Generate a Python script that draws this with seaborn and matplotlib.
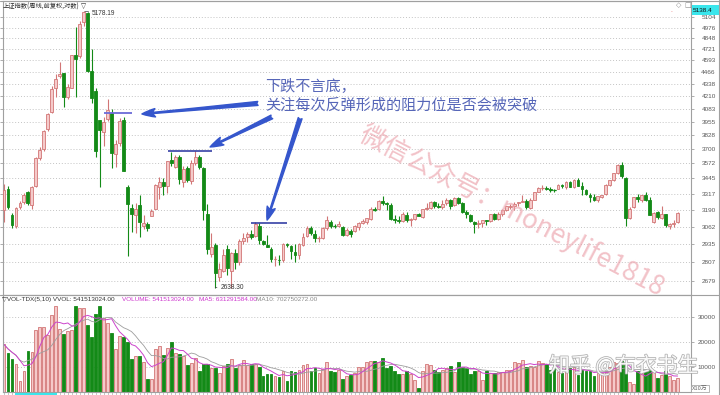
import numpy as np
import pandas as pd
import matplotlib
matplotlib.use("Agg")
import matplotlib.pyplot as plt
import matplotlib.patheffects as pe
from matplotlib.colors import to_rgba
from matplotlib.lines import Line2D
from matplotlib.patches import FancyArrowPatch, Rectangle
from matplotlib.ticker import NullLocator
import seaborn as sns

# ---- weekly bars of the Shanghai Composite (Jan 2015 - May 2018) ----
opens = [
    3190, 3356, 3147, 3070, 3210, 3250, 3328, 3225, 3381, 3624,
    3700, 3885, 4050, 4295, 4418, 4450, 4200, 4300, 4660, 4640,
    5049, 5154, 4480, 4260, 3975, 3858, 3985, 4045, 3656, 3755,
    3973, 3373, 3203, 3149, 3230, 3070, 3080, 3143, 3200, 3375,
    3410, 3380, 3600, 3545, 3630, 3416, 3530, 3420, 3580, 3630,
    3536, 3155, 2865, 2930, 2705, 2750, 2900, 2745, 2870, 2810,
    2955, 2985, 3010, 2990, 3070, 2955, 2930, 2900, 2826, 2825,
    2823, 2935, 2920, 2880, 2855, 2930, 2990, 3050, 3010, 2975,
    2980, 3050, 3100, 3070, 3066, 3060, 3000, 3030, 3030, 3060,
    3090, 3100, 3120, 3195, 3195, 3260, 3240, 3230, 3120, 3110,
    3105, 3150, 3110, 3120, 3160, 3135, 3200, 3205, 3250, 3220,
    3210, 3240, 3265, 3225, 3285, 3240, 3170, 3150, 3100, 3080,
    3090, 3110, 3105, 3155, 3120, 3155, 3190, 3215, 3220, 3240,
    3255, 3260, 3205, 3270, 3335, 3365, 3365, 3355, 3350, 3360,
    3390, 3375, 3415, 3370, 3435, 3385, 3350, 3310, 3290, 3265,
    3295, 3315, 3390, 3430, 3490, 3563, 3450, 3130, 3210, 3290,
    3270, 3310, 3270, 3100, 3170, 3130, 3155, 3070, 3080, 3095,
]
highs = [
    3395, 3383, 3165, 3210, 3260, 3324, 3340, 3383, 3632, 3716,
    3875, 4040, 4317, 4445, 4572, 4460, 4333, 4658, 4986, 5052,
    5178.19, 5176, 4720, 4290, 3976, 4000, 4184, 4080, 3784, 3994,
    4006, 3388, 3236, 3243, 3308, 3150, 3100, 3200, 3394, 3457,
    3448, 3596, 3678, 3650, 3650, 3551, 3548, 3600, 3684.57, 3650,
    3539, 3235, 3016, 2940, 2800, 2897, 2930, 2880, 2900, 2970,
    3016, 3020, 3036, 3097, 3087, 2965, 3000, 2910, 2850, 2855,
    2940, 2940, 2930, 2935, 2940, 3015, 3070, 3070, 3035, 2990,
    3060, 3140, 3110, 3085, 3107, 3065, 3050, 3045, 3075, 3095,
    3120, 3130, 3210, 3215, 3265, 3301, 3250, 3240, 3150, 3140,
    3170, 3175, 3130, 3160, 3165, 3200, 3240, 3260, 3260, 3240,
    3270, 3280, 3275, 3295, 3290, 3250, 3185, 3160, 3105, 3110,
    3115, 3115, 3160, 3165, 3170, 3195, 3220, 3235, 3250, 3255,
    3305, 3275, 3280, 3335, 3370, 3390, 3385, 3375, 3360, 3395,
    3400, 3420, 3420, 3440, 3450, 3410, 3360, 3320, 3315, 3300,
    3310, 3395, 3435, 3490, 3565, 3587, 3460, 3210, 3290, 3315,
    3310, 3335, 3290, 3175, 3180, 3220, 3160, 3090, 3110, 3176,
]
lows = [
    3095, 3200, 3050, 3050, 3200, 3237, 3230, 3200, 3370, 3600,
    3680, 3870, 4040, 4197, 4400, 4099, 4180, 4290, 4200, 4620,
    4997, 4467, 4139, 3629, 3373, 3727, 3960, 3537, 3538, 3724,
    3505, 2850, 3025, 3011, 2983, 3045, 3030, 3140, 3195, 3275,
    3308, 3323, 3550, 3530, 3400, 3371, 3412, 3400, 3560, 3520,
    3115, 2867, 2844, 2638.30, 2682, 2740, 2719, 2638.96, 2760, 2790,
    2935, 2950, 2970, 2985, 2938, 2925, 2910, 2807, 2781, 2790,
    2806, 2914, 2828, 2807, 2830, 2920, 2985, 3000, 2950, 2950,
    2970, 3040, 3050, 3050, 3060, 2990, 2996, 2985, 3025, 3040,
    3080, 3080, 3110, 3180, 3190, 3225, 3190, 3110, 3090, 3090,
    3095, 3100, 3065, 3115, 3140, 3130, 3185, 3200, 3205, 3205,
    3200, 3225, 3200, 3220, 3235, 3165, 3130, 3100, 3016, 3050,
    3060, 3075, 3100, 3110, 3115, 3145, 3180, 3195, 3190, 3220,
    3250, 3200, 3195, 3265, 3330, 3350, 3345, 3335, 3330, 3355,
    3365, 3360, 3370, 3365, 3380, 3310, 3305, 3255, 3260, 3255,
    3280, 3310, 3385, 3420, 3480, 3450, 3062.74, 3120, 3205, 3255,
    3255, 3260, 3150, 3090, 3120, 3120, 3060, 3041, 3060, 3090,
]
closes = [
    3351, 3210, 3076, 3204, 3247, 3310, 3241, 3372, 3617, 3691,
    3863, 4034, 4287, 4393, 4441, 4205, 4308, 4657, 4611, 5023,
    5166, 4478, 4192, 3687, 3877, 3957, 4070, 3663, 3744, 3965,
    3507, 3232, 3160, 3200, 3097, 3092, 3052, 3183, 3391, 3412,
    3382, 3590, 3580, 3630, 3436, 3524, 3434, 3578, 3627, 3539,
    3186, 2901, 2916, 2737, 2763, 2860, 2767, 2874, 2810, 2955,
    2979, 3009, 2985, 3078, 2960, 2938, 2913, 2827, 2826, 2822,
    2938, 2927, 2885, 2854, 2932, 2988, 3054, 3012, 2979, 2976,
    3050, 3108, 3070, 3067, 3078, 3002, 3033, 3005, 3063, 3090,
    3104, 3125, 3196, 3192, 3262, 3243, 3232, 3122, 3110, 3104,
    3154, 3113, 3123, 3159, 3140, 3196, 3202, 3253, 3218, 3212,
    3237, 3269, 3222, 3287, 3246, 3173, 3155, 3103, 3083, 3090,
    3110, 3105, 3158, 3123, 3158, 3192, 3217, 3222, 3238, 3253,
    3262, 3209, 3268, 3332, 3367, 3365, 3354, 3352, 3349, 3391,
    3378, 3416, 3372, 3433, 3382, 3353, 3317, 3289, 3266, 3297,
    3307, 3391, 3429, 3488, 3558, 3462, 3129, 3199, 3289, 3273,
    3307, 3269, 3153, 3168, 3131, 3159, 3071, 3082, 3091, 3163,
]
# weekly volume, in units of 10万 (1e5) shares
volumes = [
    19085, 15456, 13171, 11021, 4435, 8333, 16531, 16128, 24864, 25939,
    25939, 22848, 30912, 34675, 25133, 23251, 24595, 24864, 34675, 33600,
    33869, 26880, 22176, 31315, 34675, 29568, 27821, 23789, 17203, 22445,
    22176, 20160, 13037, 14381, 14381, 11827, 4973, 4973, 17203, 18413,
    14784, 17741, 20160, 15456, 15187, 14381, 10752, 11693, 13440, 8333,
    11021, 11021, 9677, 9677, 7661, 10483, 11155, 13037, 9408, 10752,
    12768, 10752, 11155, 11021, 10080, 6451, 6989, 7123, 6317, 5779,
    8467, 4435, 8333, 7795, 8736, 10752, 11021, 8333, 9677, 7392,
    9005, 12096, 8333, 7795, 8736, 4973, 6317, 6720, 7392, 10080,
    10080, 11827, 12365, 12365, 12096, 13709, 9408, 10349, 8333, 6989,
    7123, 8333, 6989, 4704, 1344, 8333, 11155, 10752, 8736, 7795,
    8736, 9408, 10349, 7795, 12096, 10080, 9408, 6989, 8333, 8333,
    4704, 8333, 7392, 7392, 7795, 7795, 8736, 8736, 11827, 11424,
    12768, 10080, 10349, 10080, 12499, 11424, 11155, 8736, 11155, 8064,
    7392, 9408, 9408, 10080, 6720, 8736, 8467, 8333, 6317, 7661,
    7661, 8467, 10080, 12096, 11424, 12499, 11424, 4032, 3091, 8333,
    7661, 8333, 8736, 8333, 5647.448, 6720, 8333, 6200, 4896.44896, 5415.13024,
]
price_ticks = [5104, 4976, 4848, 4721, 4593, 4466, 4338, 4210, 4083, 3955,
               3828, 3700, 3572, 3445, 3317, 3190, 3062, 2935, 2807, 2679]
volume_ticks = [10000, 20000, 30000]
resistance_levels = [4043, 3684, 3087]
cursor_value = "5138.4"

# ---- styling ----
W, H = 720, 395
sns.set_theme(style="white")
plt.rcParams["font.family"] = ["Noto Sans CJK SC", "DejaVu Sans"]
plt.rcParams["axes.unicode_minus"] = False

UP_FILL = "#f5caca"
UP_EDGE = "#d27676"
DOWN = "#138a17"
GRID = "#c4c4c4"
FRAME = "#a0a0a0"
NOTE = "#5666b8"
ARROW = "#3556cc"
NUM_FONT = ["Liberation Sans", "DejaVu Sans"]


def fx(px):
    return px / W


def fy(py):
    return 1 - py / H


fig = plt.figure(figsize=(W / 100, H / 100), dpi=100)
fig.patch.set_facecolor("white")

ax = fig.add_axes([fx(3), fy(294.7), (691 - 3) / W, (294.7 - 1) / H])
axv = fig.add_axes([fx(3), fy(391.7), (691 - 3) / W, (391.7 - 295.3) / H])

o = np.array(opens, float)
h = np.array(highs, float)
l = np.array(lows, float)
c = np.array(closes, float)
n = len(c)
idx = np.arange(n)
up = c >= o
edge_cols = np.where(up, UP_EDGE, DOWN)
fill_cols = np.where(up, UP_FILL, DOWN)

# ---- candlesticks ----
ax.set_yscale("log")
ax.vlines(idx, l, h, colors=edge_cols, linewidth=0.8, zorder=2)
lo_body = np.minimum(o, c)
hi_body = np.maximum(o, c)
ax.bar(idx, hi_body - lo_body, bottom=lo_body, width=0.72, color=fill_cols,
       edgecolor=edge_cols, linewidth=0.6, zorder=3)
flat = (hi_body - lo_body) < 4
ax.hlines(c[flat], idx[flat] - 0.36, idx[flat] + 0.36, colors=edge_cols[flat],
          linewidth=0.9, zorder=3)

XMIN, XMAX = -0.25, 172.35
ax.set_xlim(XMIN, XMAX)
ax.set_ylim(2593, 5311)
ax.set_yticks(price_ticks, labels=[str(v) for v in price_ticks])
ax.yaxis.set_minor_locator(NullLocator())
ax.set_xticks([])
ax.grid(axis="y", color=GRID, linestyle=(0, (1, 2)), linewidth=0.7)
ax.tick_params(axis="y", which="major", left=True, right=True, labelleft=False,
               labelright=True, length=2, width=0.6, color=FRAME, labelsize=4.6,
               labelcolor="#5a5a5a", pad=15.8, direction="out")
for sp in ax.spines.values():
    sp.set_color(FRAME)
    sp.set_linewidth(0.8)

# peak / trough markers
peak_i = int(np.argmax(h))
low_i = int(np.argmin(l))
ax.annotate(f"{h[peak_i]:.2f}", xy=(peak_i + 0.3, h[peak_i]), xytext=(5.0, -1.3),
            textcoords="offset points", fontsize=4.7, family=NUM_FONT, color="#333333",
            ha="left", va="center",
            arrowprops=dict(arrowstyle="-", color="#444444", lw=0.5, shrinkA=0, shrinkB=0))
ax.annotate(f"{l[low_i]:.2f}", xy=(low_i, l[low_i]), xytext=(3.6, 0),
            textcoords="offset points", fontsize=4.7, family=NUM_FONT, color="#333333",
            ha="left", va="center",
            arrowprops=dict(arrowstyle="-", color="#444444", lw=0.5, shrinkA=0, shrinkB=0))

# resistance lines left by each rebound
ax.hlines(resistance_levels[0], 25.1, 32.0, color="#6b6bd8", linewidth=1.3, zorder=5)
ax.hlines(resistance_levels[1], 41.1, 52.2, color="#24309e", linewidth=1.1, zorder=5)
ax.hlines(resistance_levels[2], 62.0, 71.0, color="#24309e", linewidth=1.1, zorder=5)

arrow_style = "fancy,head_length=0.8,head_width=0.5,tail_width=0.24"
for tail, tip in [((63.7, 4136), (34.6, 4031)),
                  ((67.2, 4002), (51.7, 3719)),
                  ((74.3, 3990), (66.0, 3111))]:
    ax.add_patch(FancyArrowPatch(tail, tip, arrowstyle=arrow_style, mutation_scale=12,
                                 color=ARROW, shrinkA=0, shrinkB=0, zorder=6,
                                 clip_on=False))

# ---- volume panel ----
vol = pd.Series(volumes, dtype=float)
ma5 = vol.rolling(5, min_periods=1).mean()
ma10 = vol.rolling(10, min_periods=1).mean()
vol_df = pd.DataFrame({"week": idx, "volume": vol, "trend": np.where(up, "up", "down")})
sns.barplot(data=vol_df, x="week", y="volume", hue="trend", hue_order=["up", "down"],
            palette={"up": UP_FILL, "down": DOWN}, native_scale=True, width=0.7,
            dodge=False, errorbar=None, legend=False, saturation=1, linewidth=0.6,
            ax=axv)
up_rgba = to_rgba(UP_FILL)
for bar in axv.patches:
    is_up = np.allclose(bar.get_facecolor(), up_rgba, atol=0.02)
    bar.set_edgecolor(UP_EDGE if is_up else DOWN)
    bar.set_linewidth(0.6)
sns.lineplot(x=idx, y=ma10.values, color="#9d9d9d", linewidth=0.6, ax=axv)
sns.lineplot(x=idx, y=ma5.values, color="#cc44cc", linewidth=0.7, ax=axv)

axv.set_xlim(XMIN, XMAX)
axv.set_ylim(0, 38870)
axv.set_xlabel("")
axv.set_ylabel("")
axv.set_yticks(volume_ticks, labels=[str(v) for v in volume_ticks])
axv.set_xticks(idx, labels=[""] * n)
axv.grid(axis="y", color=GRID, linestyle=(0, (1, 2)), linewidth=0.7)
axv.grid(axis="x", visible=False)
axv.tick_params(axis="y", left=False, right=True, labelleft=False, labelright=True,
                length=2, width=0.6, color=FRAME, labelsize=4.6, labelcolor="#5a5a5a",
                pad=15.8, direction="out")
axv.tick_params(axis="x", bottom=True, length=2.5, width=0.4, color="#9a9a9a",
                direction="out")
for sp in axv.spines.values():
    sp.set_color(FRAME)
    sp.set_linewidth(0.8)

for a in (ax, axv):
    for t in a.yaxis.get_major_ticks():
        t.label2.set_horizontalalignment("right")
        t.label2.set_fontfamily(NUM_FONT)

# ---- header texts ----
fig.text(fx(3), fy(6.5), "上证指数(周线,前复权,对数)", fontsize=4.5, color="#2a2a2a",
         ha="left", va="center")
fig.text(fx(81), fy(6.3), "▽", fontsize=4.8, family=["DejaVu Sans"], color="#2a2a2a",
         ha="left", va="center")
vol_last = vol.iloc[-1] * 1e5
fig.text(fx(2), fy(299.7), f"▽VOL-TDX(5,10) VVOL: {vol_last:.2f}", fontsize=4.6,
         family=NUM_FONT, color="#333333", ha="left", va="center")
fig.text(fx(121.7), fy(299.7), f"VOLUME: {vol_last:.2f}", fontsize=4.6,
         family=NUM_FONT, color="#cc33cc", ha="left", va="center")
fig.text(fx(199.3), fy(299.7), f"MA5: {ma5.iloc[-1] * 1e5:.2f}", fontsize=4.6,
         family=NUM_FONT, color="#cc33cc", ha="left", va="center")
fig.text(fx(256), fy(299.7), f"MA10: {ma10.iloc[-1] * 1e5:.2f}", fontsize=4.6,
         family=NUM_FONT, color="#8a8a8a", ha="left", va="center")

# cursor readout and toolbar glyphs
fig.add_artist(Rectangle((fx(692), fy(15)), 27 / W, 10 / H, transform=fig.transFigure,
                         facecolor="#3ae6ec", edgecolor="none"))
fig.text(fx(693), fy(10), cursor_value, fontsize=4.6, family=NUM_FONT, color="#111111",
         ha="left", va="center")
fig.text(fx(679), fy(5.5), "◇", fontsize=5, family=["DejaVu Sans"], color="#8a8a8a",
         ha="center", va="center")
fig.text(fx(688), fy(5.5), "□", fontsize=5, family=["DejaVu Sans"], color="#8a8a8a",
         ha="center", va="center")
fig.text(fx(672), fy(11), "..", fontsize=3.6, color="#e04848", ha="center", va="center")
fig.add_artist(Rectangle((fx(15), 0), 42 / W, 2.5 / H, transform=fig.transFigure,
                         facecolor="#3ae6ec", edgecolor="none"))
fig.text(fx(700), fy(388.5), "X10万", fontsize=4.2, color="#666666", ha="center",
         va="center", bbox=dict(boxstyle="square,pad=0.15", facecolor="white",
                                edgecolor="#9a9a9a", linewidth=0.5))

# outer frame lines
fig.add_artist(Line2D([0, 1], [fy(0.8), fy(0.8)], transform=fig.transFigure,
                      color=FRAME, linewidth=0.8))
fig.add_artist(Line2D([0, 1], [fy(295), fy(295)], transform=fig.transFigure,
                      color=FRAME, linewidth=0.8))
fig.add_artist(Line2D([fx(718.6), fx(718.6)], [0, 1], transform=fig.transFigure,
                      color=FRAME, linewidth=0.8))

# ---- commentary ----
fig.text(fx(265), fy(86.5), "下跌不言底，", fontsize=10.9, color=NOTE, ha="left",
         va="center")
fig.text(fx(265), fy(105), "关注每次反弹形成的阻力位是否会被突破", fontsize=10.9,
         color=NOTE, ha="left", va="center")

fig.text(fx(512), fy(211), "微信公众号：moneylife1818", rotation=-27.5,
         rotation_mode="anchor", ha="center", va="center", fontsize=19,
         color="#eba2ab", alpha=0.65)
fig.text(fx(549), fy(366), "知乎 @布衣书生", fontsize=15, color="white", alpha=0.92,
         ha="left", va="center",
         path_effects=[pe.withStroke(linewidth=1.1, foreground="#a9a9a9")])

fig.savefig("out.png", dpi=100, facecolor="white")
